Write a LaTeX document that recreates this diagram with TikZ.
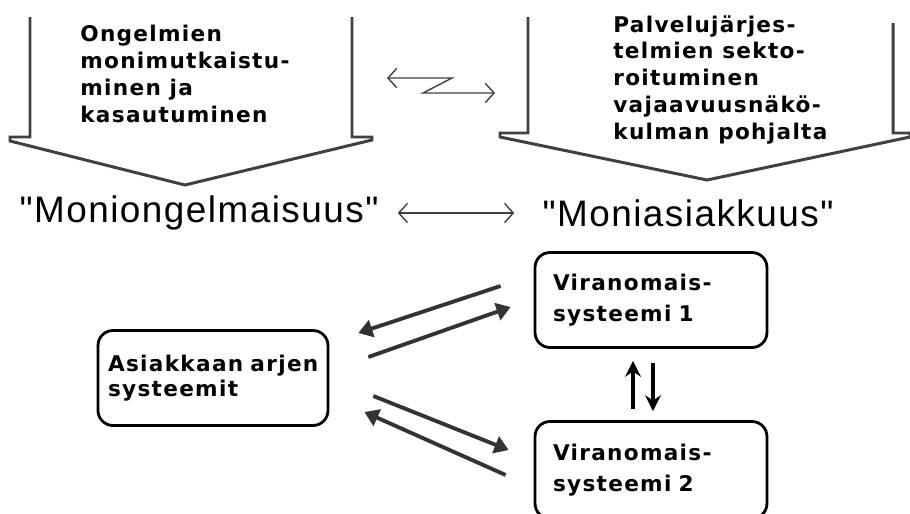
\documentclass[tikz,border=0pt]{standalone}
\usepackage{fontspec}
\setmainfont{DejaVu Sans}
\newfontfamily\chifont{DejaVu Sans}[LetterSpace=6]
\newfontfamily\genfont{Liberation Sans}[LetterSpace=4]
\usetikzlibrary{arrows.meta,calc}

\tikzset{
  bigarrow/.style={line width=1.7pt, draw=black!75, line join=miter},
  blocktext/.style={font=\chifont\bfseries\fontsize{12.3}{15.3}\selectfont,
    align=left, inner sep=0pt, anchor=north west},
  sysbox/.style={draw, line width=1.6pt, rounded corners=0.3cm,
    minimum width=4.64cm, minimum height=1.9cm, inner xsep=0.36cm,
    text width=3.92cm, align=left,
    font=\chifont\bfseries\fontsize{12.3}{18}\selectfont},
  term/.style={font=\genfont\fontsize{21}{24}\selectfont, inner sep=0pt},
  thinarr/.style={line width=0.8pt, draw=black!75,
    {Straight Barb[length=5pt,width=11pt]}-{Straight Barb[length=5pt,width=11pt]}},
  flow/.style={line width=2.2pt, draw=black!80, -{Triangle[length=8pt,width=10pt]}},
  updown/.style={line width=2pt, -{Stealth[length=9pt,width=9pt]}}
}

\begin{document}
\begin{tikzpicture}[x=0.02cm, y=-0.02cm]
  \useasboundingbox (0,0) rectangle (910,514);

  % --- grandi frecce in alto ---------------------------------------------
  \draw[bigarrow] (30,17) -- (30,137) -- (10,137) -- (10,141) -- (185,185)
    -- (372,140) -- (372,137) -- (352,137) -- (352,17);
  \draw[bigarrow] (528,17) -- (528,133) -- (500,133) -- (500,137) -- (707,180)
    -- (910,137) -- (910,133) -- (893,133) -- (893,23);

  \node[blocktext] (probl) at (80,25)
    {Ongelmien\\monimutkaistu-\\minen ja\\kasautuminen};
  \node[blocktext] (palv) at (613,15)
    {Palvelujärjes-\\telmien sekto-\\roituminen\\vajaavuusnäkö-\\kulman pohjalta};

  % freccia a zigzag tra le due frecce
  \coordinate (zl) at (387,78);
  \coordinate (zr) at (495,93);
  \draw[thinarr] (zl) -- (452,78) -- (423,93) -- (zr);

  % --- termini centrali ----------------------------------------------------
  \node[term] (monion) at (199,213) {"Moniongelmaisuus"};
  \node[term] (monias) at (688,213) {"Moniasiakkuus"};
  \draw[thinarr, shorten <=0.38cm, shorten >=0.56cm] (monion.east) -- (monias.west);

  % --- sistemi ---------------------------------------------------------------
  \node[sysbox, minimum width=4.6cm, text width=4.2cm, inner xsep=0.2cm,
    font=\chifont\bfseries\fontsize{12.3}{14.2}\selectfont]
    (asiak) at (213,378) {Asiakkaan arjen\\systeemit};
  \node[sysbox] (vir1) at (651,300) {Viranomais-\\systeemi 1};
  \node[sysbox, minimum height=1.94cm] (vir2) at (651,470) {Viranomais-\\systeemi 2};

  \draw[flow] ($(vir1.west)+(-33,-14)$) -- ($(asiak.east)+(29,-45)$);
  \draw[flow] ($(asiak.east)+(39,-21)$) -- ($(vir1.west)+(-23,7)$);
  \draw[flow] ($(asiak.east)+(44,18)$) -- ($(vir2.west)+(-25,-20)$);
  \draw[flow] ($(vir2.west)+(-28,5)$) -- ($(asiak.east)+(35,34)$);

  \draw[updown] ($(vir2.north)+(-18,-11)$) -- ($(vir1.south)+(-18,12)$);
  \draw[updown] ($(vir1.south)+(2,14)$) -- ($(vir2.north)+(2,-9)$);

\end{tikzpicture}
\end{document}
